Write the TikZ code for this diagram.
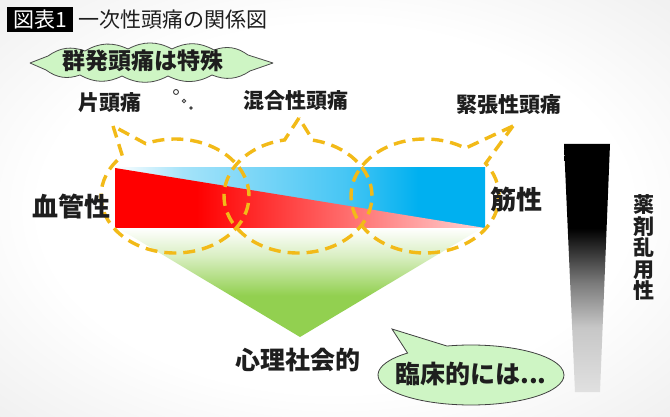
\documentclass[tikz,border=0pt]{standalone}
\usepackage{fontspec}
\setmainfont{Noto Sans CJK JP}
\usetikzlibrary{shapes.callouts, positioning}
\definecolor{Gold}{RGB}{242, 186, 24}
\definecolor{Sky}{RGB}{0, 176, 240}
\definecolor{Grn}{RGB}{146, 208, 80}
\definecolor{Mint}{RGB}{206, 245, 196}
\definecolor{Ink}{RGB}{30, 30, 30}
\pgfdeclarehorizontalshading{bluefade}{100bp}{color(0bp)=(white); color(25bp)=(white); color(34bp)=(Sky!35); color(56bp)=(Sky!72); color(66bp)=(Sky); color(100bp)=(Sky)}
\pgfdeclarehorizontalshading{redfade}{100bp}{color(0bp)=(red); color(36bp)=(red); color(56bp)=(red!58); color(75bp)=(red!17); color(100bp)=(red!17)}
\pgfdeclareverticalshading{greenfade}{100bp}{color(0bp)=(Grn); color(44bp)=(Grn); color(62bp)=(Grn!35); color(75bp)=(white); color(100bp)=(white)}
\pgfdeclareverticalshading{graywedge}{100bp}{color(0bp)=(black!12); color(25bp)=(black!12); color(38bp)=(black!22); color(47bp)=(black!52); color(58bp)=(black); color(100bp)=(black)}
\pgfdeclareradialshading{vignette}{\pgfpoint{0bp}{0bp}}{color(0bp)=(white); color(22bp)=(white); color(36bp)=(black!6); color(50bp)=(black!6)}

\begin{document}
\begin{tikzpicture}[x=1pt, y=-1pt,
    lbl/.style={inner sep=0pt, text=Ink, font=\fontsize{21}{21}\selectfont\bfseries},
    biglbl/.style={lbl, font=\fontsize{26}{26}\selectfont\bfseries},
    dashcall/.style={ellipse callout, draw=Gold, line width=3.4pt, dash pattern=on 12pt off 7pt, minimum width=148pt, minimum height=114pt, inner sep=0pt, callout pointer arc=22},
    bubble/.style={circle, draw=Ink!85, fill=white, line width=0.9pt, inner sep=0pt}]
            % Background
            \useasboundingbox (0,0) rectangle (670,417);
            \shade[shading=vignette] (0,0) rectangle (670,417);

            % Title
            \node[fill=black, text=white, minimum width=66pt, minimum height=25pt, inner sep=0pt, font=\fontsize{21}{21}\selectfont] (fignum) at (40,19.5) {図表1};
            \node[right=5pt of fignum, inner sep=0pt, text=Ink, font=\fontsize{21}{21}\selectfont] (title) {一次性頭痛の関係図};

            % Cluster headache cloud
            \draw[draw=Ink!80, fill=Mint, line width=0.8pt, line join=round]
                (30,63) -- (48,56) to[bend left=28] (85,51) to[bend left=28] (128,49)
                to[bend left=28] (172,49) to[bend left=28] (214,50) to[bend left=28] (248,55)
                -- (273,63) -- (250,71) to[bend left=28] (212,75) to[bend left=28] (168,76)
                to[bend left=28] (122,76) to[bend left=28] (80,75) to[bend left=28] (46,70) -- cycle;
            \node[lbl, font=\fontsize{23}{23}\selectfont\bfseries] (cluster) at (143,61) {群発頭痛は特殊};
            \node[bubble, minimum size=5pt] (b1) at (176,92) {};
            \node[bubble, minimum size=3.6pt] (b2) at (184,101) {};
            \node[bubble, fill=Ink, minimum size=2.4pt] (b3) at (191,108) {};

            % Psychosocial triangle
            \shade[shading=greenfade] (118,228) -- (482,228) -- (300,337) -- cycle;

            % Vascular / muscular band
            \shade[shading=bluefade] (115,168) rectangle (485,228);
            \shade[shading=redfade] (115,168) -- (485,228) -- (115,228) -- cycle;

            % Headache types
            \node[lbl] (migraine) at (110,103) {片頭痛};
            \node[lbl] (mixed) at (296,101) {混合性頭痛};
            \node[lbl] (tension) at (509,105) {緊張性頭痛};
            \node[dashcall, callout absolute pointer={(113,126)}] (c1) at (175,196) {};
            \node[dashcall, callout absolute pointer={(299,118)}] (c2) at (298,196) {};
            \node[dashcall, callout absolute pointer={(513,126)}] (c3) at (425,196) {};

            % Side labels
            \node[biglbl] (vascular) at (71,207) {血管性};
            \node[biglbl] (muscular) at (516,200) {筋性};
            \node[lbl, font=\fontsize{25}{25}\selectfont\bfseries] (psycho) at (298,360) {心理社会的};

            % Clinical bubble
            \node[ellipse callout, draw=Ink!85, fill=Mint, line width=0.8pt, minimum width=186pt, minimum height=60pt, inner sep=0pt, callout pointer arc=28, callout absolute pointer={(392,329)}] (clinic) at (471,375) {};
            \node[lbl, font=\fontsize{25}{25}\selectfont\bfseries] (clinictext) at (471,374) {臨床的には...};

            % Medication overuse
            \shade[shading=graywedge] (564,144) -- (610,144) -- (600,392) -- (575,392) -- cycle;
            \node[lbl, align=center, font=\fontsize{21}{21.5}\selectfont\bfseries] (overuse) at (644,248) {薬\\剤\\乱\\用\\性};
\end{tikzpicture}
\end{document}
